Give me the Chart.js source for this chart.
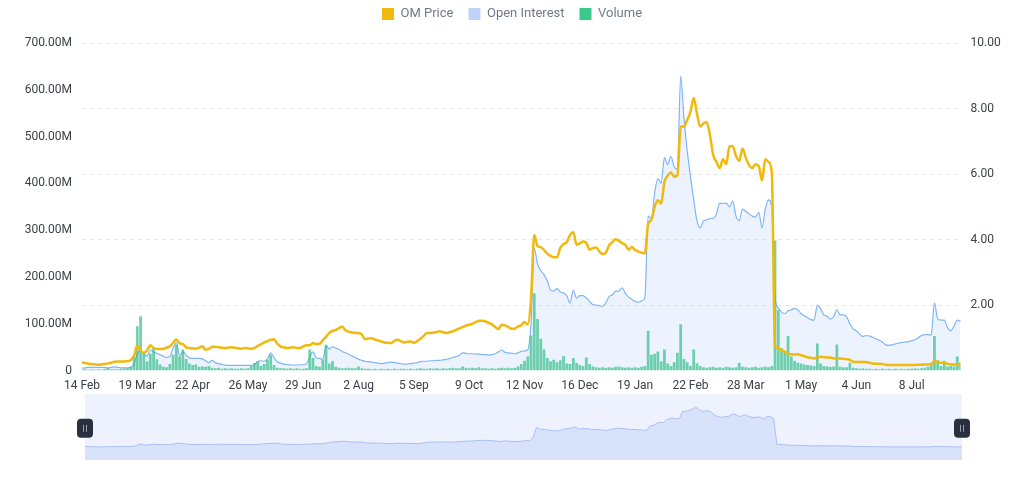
<!DOCTYPE html>
<html>
<head>
<meta charset="utf-8">
<script src="https://cdn.jsdelivr.net/npm/chart.js@4.4.1/dist/chart.umd.min.js"></script>
<style>
  html, body { margin: 0; padding: 0; background: #fff; }
  #wrap { position: relative; width: 1024px; height: 493px; overflow: hidden; }
  #main { position: absolute; left: 0; top: 0; width: 1024px; height: 401px; }
  #nav { position: absolute; left: 69px; top: 394px; width: 909px; height: 66px; }
</style>
</head>
<body>
<div id="wrap">
  <div id="main"><canvas id="mainChart"></canvas></div>
  <div id="nav"><canvas id="navChart"></canvas></div>
</div>
<script>
// one point every 2 days, starting 14 Feb 2024
const startDate = new Date(2024, 1, 14);
const stepDays = 2;
const monthNames = ["Jan","Feb","Mar","Apr","May","Jun","Jul","Aug","Sep","Oct","Nov","Dec"];

// x tick labels (every 34 days = every 17 points)
const tickEvery = 17;
const tickLabels = ["14 Feb","19 Mar","22 Apr","26 May","29 Jun","2 Aug","5 Sep","9 Oct",
  "12 Nov","16 Dec","19 Jan","22 Feb","28 Mar","1 May","4 Jun","8 Jul"];

// OM price (USD, right axis)
const price = [
  0.25,0.23,0.21,0.20,0.19,0.18,0.19,0.20,0.22,0.24,
  0.27,0.28,0.28,0.28,0.29,0.32,0.45,0.77,0.62,0.54,
  0.62,0.77,0.69,0.66,0.66,0.66,0.70,0.74,0.85,0.95,
  0.83,0.81,0.71,0.69,0.68,0.67,0.70,0.74,0.64,0.66,
  0.73,0.73,0.71,0.70,0.69,0.70,0.71,0.70,0.68,0.67,
  0.69,0.68,0.67,0.69,0.75,0.80,0.86,0.90,0.94,0.96,
  0.83,0.74,0.71,0.69,0.70,0.71,0.69,0.69,0.74,0.77,
  0.77,0.84,0.81,0.82,0.92,1.03,1.15,1.21,1.24,1.30,
  1.34,1.23,1.19,1.16,1.15,1.15,1.10,0.96,0.98,0.99,
  0.95,0.92,0.89,0.86,0.85,0.84,0.91,0.94,0.90,0.86,
  0.88,0.89,0.85,0.90,0.97,1.06,1.15,1.15,1.16,1.18,
  1.20,1.17,1.15,1.17,1.20,1.24,1.29,1.33,1.37,1.40,
  1.43,1.48,1.52,1.52,1.50,1.46,1.41,1.33,1.27,1.40,
  1.38,1.33,1.28,1.28,1.35,1.38,1.48,1.41,2.20,4.14,
  3.80,3.77,3.68,3.57,3.50,3.46,3.46,3.75,3.86,3.92,
  4.14,4.22,3.84,3.88,3.94,3.90,3.69,3.74,3.76,3.64,
  3.55,3.60,3.82,3.92,4.01,3.96,3.89,3.84,3.69,3.77,
  3.68,3.63,3.60,3.58,4.48,4.60,5.00,5.20,5.10,5.75,
  5.95,6.05,5.92,5.97,7.45,7.45,7.65,7.90,8.32,7.85,
  7.45,7.54,7.59,7.18,6.58,6.37,6.18,6.45,6.30,6.85,
  6.85,6.55,6.40,6.78,6.50,6.27,6.18,6.30,6.24,5.80,
  6.45,6.37,6.05,0.75,0.69,0.62,0.58,0.52,0.50,0.49,
  0.50,0.47,0.44,0.41,0.39,0.37,0.41,0.42,0.41,0.40,
  0.40,0.38,0.37,0.37,0.36,0.35,0.33,0.27,0.26,0.26,
  0.26,0.26,0.24,0.22,0.21,0.21,0.20,0.18,0.17,0.17,
  0.17,0.17,0.17,0.17,0.17,0.17,0.17,0.18,0.18,0.19,
  0.19,0.20,0.30,0.26,0.24,0.23,0.21,0.19,0.19,0.20,
  0.21
];

// open interest (millions USD, left axis)
const openInterest = [
  5,6,7,7,7,7,7,7,6,7,
  8,7,6,6,6,7,14,36,42,35,
  31,44,40,37,34,31,28,30,48,60,
  32,40,33,27,26,26,26,25,21,17,
  22,17,15,13,12,11,11,11,11,11,
  11,11,11,13,19,21,20,25,38,28,
  19,16,14,13,12,12,12,12,13,14,
  30,40,27,26,24,53,46,51,48,45,
  41,38,35,31,28,24,22,20,19,18,
  17,16,15,16,17,18,17,16,15,14,
  14,15,16,17,19,20,20,21,21,22,
  22,23,24,26,28,30,33,38,37,36,
  36,35,35,34,34,33,34,36,40,44,
  39,38,37,36,38,41,42,45,100,262,
  228,214,205,192,172,170,175,168,166,160,
  144,172,155,160,160,155,148,141,140,139,
  137,145,158,162,170,170,177,165,157,152,
  148,146,149,156,330,325,380,410,400,455,
  440,458,435,430,630,540,470,415,365,320,
  305,320,322,325,325,335,358,357,358,350,
  362,330,320,345,340,335,330,328,338,305,
  345,365,350,155,134,125,122,128,130,133,
  130,122,117,113,109,108,140,132,119,116,
  110,115,130,119,119,115,100,89,85,78,
  73,75,74,71,68,65,61,55,54,55,
  57,59,60,61,62,64,66,70,75,77,
  77,76,145,110,108,108,92,85,95,108,
  105
];

// volume (millions USD, left axis)
const volume = [
  3,3,2,3,2,3,2,4,6,3,
  3,3,4,4,5,8,30,95,116,35,
  20,36,48,24,13,8,7,14,34,55,
  30,45,25,15,12,13,8,9,8,10,
  6,5,6,4,5,4,5,4,4,5,
  4,5,10,16,20,10,14,23,34,12,
  6,5,5,4,5,4,5,4,4,5,
  45,27,10,8,23,55,15,20,8,6,
  5,5,6,5,5,9,5,4,4,3,
  4,3,4,3,4,3,4,3,4,4,
  3,4,3,4,5,4,4,5,4,5,
  4,5,4,5,6,5,5,9,6,5,
  6,5,7,5,5,4,5,4,5,6,
  5,6,5,6,9,14,21,30,75,165,
  110,68,45,27,20,23,18,22,31,15,
  14,27,16,12,10,28,14,9,7,6,
  7,6,7,6,8,9,7,6,7,6,
  7,6,8,10,85,34,36,41,20,45,
  15,10,18,38,99,25,18,10,45,15,
  10,7,6,7,8,6,7,6,8,7,
  6,7,17,8,7,6,7,8,6,7,
  8,7,10,278,130,48,40,74,30,21,
  17,15,13,12,11,10,58,15,10,9,
  8,9,56,8,7,7,17,6,5,4,
  5,4,4,3,4,3,4,3,4,3,
  4,3,4,3,4,4,5,4,5,6,
  8,12,74,22,10,21,9,10,9,30,
  12
];

const legendColors = ["#F0B90B", "#BFD3FA", "#3CC88A"];

// category labels (dates)
const dates = price.map((_, i) => {
  const d = new Date(startDate);
  d.setDate(d.getDate() + i * stepDays);
  return d.getDate() + " " + monthNames[d.getMonth()];
});

Chart.defaults.font.family = "Roboto";
const tickColor = "#3C4048";

// ✅ legend spacing
const legendSpace = {
  id: "legendSpace",
  afterInit(chart) {
    const legend = chart.legend;
    const fitOrig = legend.fit;
    legend.fit = function () {
      fitOrig.call(this);
      this.height = 43;
    };
    const drawOrig = legend.draw;
    legend.draw = function () {
      const ctx = this.ctx;
      ctx.save();
      ctx.translate(0, -7.5);
      drawOrig.apply(this, arguments);
      ctx.restore();
    };
  }
};

// ✅ main chart
new Chart(document.getElementById("mainChart"), {
  type: "bar",
  data: {
    labels: dates,
    datasets: [
      {
        type: "line",
        label: "OM Price",
        data: price,
        yAxisID: "yPrice",
        borderColor: "#F0B90B",
        backgroundColor: "#F0B90B",
        borderWidth: 2.5,
        pointRadius: 0,
        cubicInterpolationMode: "monotone",
        order: 0
      },
      {
        type: "line",
        label: "Open Interest",
        data: openInterest,
        yAxisID: "yLeft",
        borderColor: "#80B6F6",
        backgroundColor: "rgba(196,219,251,0.32)",
        borderWidth: 1.2,
        pointRadius: 0,
        fill: "origin",
        cubicInterpolationMode: "monotone",
        order: 2
      },
      {
        type: "bar",
        label: "Volume",
        data: volume,
        yAxisID: "yLeft",
        backgroundColor: "rgba(46,189,133,0.68)",
        barPercentage: 0.85,
        categoryPercentage: 1,
        order: 1
      }
    ]
  },
  options: {
    responsive: true,
    maintainAspectRatio: false,
    animation: false,
    layout: { padding: 0 },
    plugins: {
      tooltip: { enabled: false },
      legend: {
        position: "top",
        labels: {
          boxWidth: 12,
          boxHeight: 12,
          padding: 15,
          color: "#707A8A",
          font: { size: 13 },
          sort: (a, b) => a.datasetIndex - b.datasetIndex,
          generateLabels(chart) {
            const items = Chart.defaults.plugins.legend.labels.generateLabels(chart);
            items.forEach(it => {
              it.fillStyle = legendColors[it.datasetIndex];
              it.strokeStyle = legendColors[it.datasetIndex];
              it.lineWidth = 0;
            });
            return items;
          }
        }
      }
    },
    scales: {
      x: {
        offset: false,
        grid: { display: false, drawTicks: false },
        border: { display: false },
        ticks: {
          autoSkip: false,
          maxRotation: 0,
          padding: 8,
          color: tickColor,
          font: { size: 12 },
          callback: (v, i) => (i % tickEvery === 0 ? tickLabels[i / tickEvery] : "")
        }
      },
      yLeft: {
        position: "left",
        min: 0,
        max: 700,
        grid: { display: false, drawTicks: false },
        border: { display: false },
        ticks: {
          stepSize: 100,
          padding: 10,
          color: tickColor,
          font: { size: 12 },
          callback: v => (v === 0 ? "0" : v.toFixed(2) + "M")
        },
        afterFit(s) { s.width = 82; }
      },
      yPrice: {
        position: "right",
        min: 0,
        max: 10,
        grid: {
          drawTicks: false,
          color: ctx => (ctx.tick && ctx.tick.value === 0 ? "rgba(0,0,0,0)" : "#E6E8EB")
        },
        border: { display: false, dash: [4, 4] },
        ticks: {
          stepSize: 2,
          padding: 10,
          color: tickColor,
          font: { size: 12 },
          callback: v => (v === 0 ? "" : v.toFixed(2))
        },
        afterFit(s) { s.width = 63.5; }
      }
    }
  },
  plugins: [legendSpace]
});

// ✅ navigator (mini price area + handles)
const navBackground = {
  id: "navBackground",
  beforeDatasetsDraw(chart) {
    const { ctx, chartArea: a } = chart;
    ctx.save();
    ctx.fillStyle = "#EEF2FE";
    ctx.fillRect(a.left, a.top, a.right - a.left, a.bottom - a.top);
    ctx.restore();
  }
};

const navHandles = {
  id: "navHandles",
  afterDraw(chart) {
    const { ctx, chartArea: a } = chart;
    const cy = a.top + (a.bottom - a.top) * 0.52;
    [a.left, a.right].forEach(cx => {
      ctx.save();
      ctx.fillStyle = "#2B3040";
      ctx.beginPath();
      ctx.roundRect(cx - 8, cy - 9.5, 16, 19, 4);
      ctx.fill();
      ctx.strokeStyle = "#9AA0AE";
      ctx.lineWidth = 1;
      ctx.beginPath();
      ctx.moveTo(cx - 1.5, cy - 3.5); ctx.lineTo(cx - 1.5, cy + 3.5);
      ctx.moveTo(cx + 1.5, cy - 3.5); ctx.lineTo(cx + 1.5, cy + 3.5);
      ctx.stroke();
      ctx.restore();
    });
  }
};

new Chart(document.getElementById("navChart"), {
  type: "line",
  data: {
    labels: dates,
    datasets: [{
      data: price,
      borderColor: "#A9BEF4",
      backgroundColor: "#D9E2FB",
      borderWidth: 1,
      pointRadius: 0,
      fill: "start"
    }]
  },
  options: {
    responsive: true,
    maintainAspectRatio: false,
    animation: false,
    layout: { padding: { left: 16, right: 16, top: 0, bottom: 0 } },
    plugins: { legend: { display: false }, tooltip: { enabled: false } },
    scales: {
      x: { display: false, offset: false },
      y: { display: false, min: -2.5, max: 11 }
    }
  },
  plugins: [navBackground, navHandles]
});
</script>
</body>
</html>
